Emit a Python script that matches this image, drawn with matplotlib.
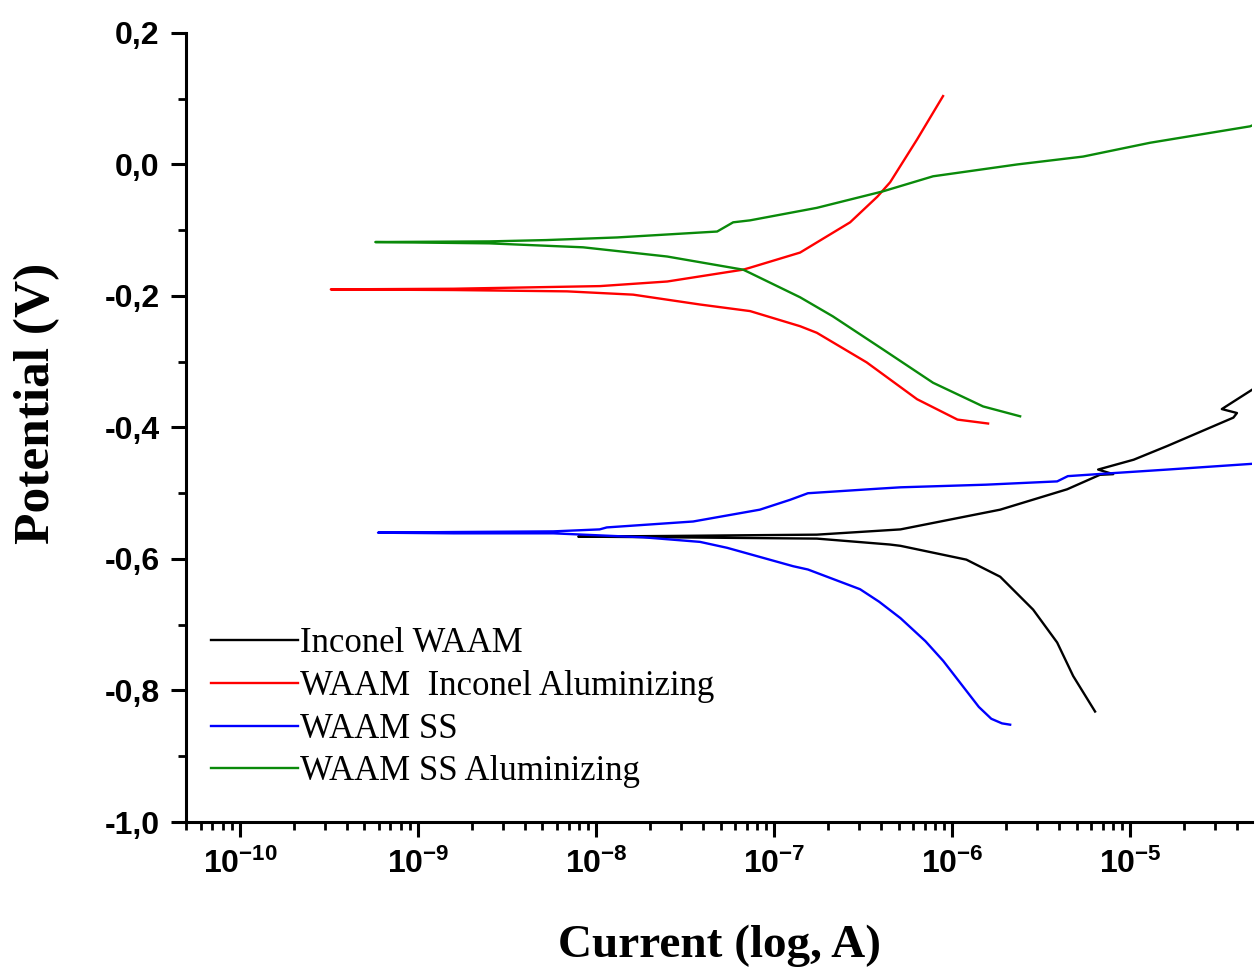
import numpy as np
import matplotlib
matplotlib.use('Agg')
import matplotlib.pyplot as plt
from matplotlib.ticker import LogLocator, FixedLocator, MultipleLocator, NullFormatter

plt.rcParams['axes.unicode_minus'] = False

# ── Data: log10(current / A) and potential (V) ──────────────────────────────
# each curve runs from the cathodic end, through Ecorr, out to the anodic end
inconel_logi = [-5.197, -5.32, -5.41, -5.545, -5.73, -5.92, -6.29, -6.35, -6.76, -7.2, -7.6, -8.10,
                -7.6, -7.2, -6.76, -6.29, -5.73, -5.354, -5.17, -5.095, -5.18, -4.98, -4.79,
                -4.42, -4.40, -4.485, -4.30]
inconel_e = [-0.832, -0.778, -0.727, -0.677, -0.627, -0.601, -0.580, -0.578, -0.569, -0.568, -0.567, -0.566,
             -0.565, -0.564, -0.563, -0.555, -0.525, -0.494, -0.472, -0.471, -0.464, -0.449, -0.428,
             -0.385, -0.378, -0.372, -0.340]

inconel_al_logi = [-5.798, -5.97, -6.197, -6.48, -6.76, -6.854, -7.135, -7.416, -7.792, -8.163, -8.8, -9.49,
                   -8.8, -7.978, -7.60, -7.174, -7.135, -6.854, -6.573, -6.42, -6.348, -6.197, -6.051]
inconel_al_e = [-0.394, -0.388, -0.357, -0.301, -0.256, -0.246, -0.223, -0.213, -0.198, -0.193, -0.191, -0.190,
                -0.189, -0.185, -0.178, -0.160, -0.157, -0.134, -0.088, -0.049, -0.027, 0.038, 0.104]

ss_logi = [-5.674, -5.72, -5.78, -5.85, -5.95, -6.05, -6.15, -6.29, -6.41, -6.517, -6.81, -6.893, -7.264,
           -7.416, -7.736, -8.24, -8.8, -9.225,
           -8.8, -8.24, -7.98, -7.94, -7.455, -7.08, -6.91, -6.81, -6.41, -6.29, -5.81, -5.41, -5.35,
           -5.13, -4.79, -4.30]
ss_e = [-0.852, -0.850, -0.843, -0.825, -0.790, -0.755, -0.725, -0.690, -0.665, -0.646, -0.616, -0.611, -0.583,
        -0.574, -0.567, -0.561, -0.561, -0.560,
        -0.559, -0.558, -0.555, -0.552, -0.543, -0.525, -0.510, -0.500, -0.493, -0.491, -0.487, -0.482, -0.474,
        -0.470, -0.464, -0.455]

ss_al_logi = [-5.618, -5.826, -6.107, -6.39, -6.67, -6.854, -7.135, -7.174, -7.601, -8.073, -8.6, -9.24,
              -8.6, -8.28, -7.882, -7.32, -7.23, -7.135, -6.76, -6.39, -6.107, -5.635, -5.264, -4.888,
              -4.326, -4.30]
ss_al_e = [-0.383, -0.368, -0.332, -0.281, -0.231, -0.202, -0.165, -0.160, -0.140, -0.126, -0.120, -0.118,
           -0.117, -0.115, -0.111, -0.102, -0.088, -0.085, -0.066, -0.041, -0.018, 0.000, 0.012, 0.033,
           0.058, 0.061]

labels = ['Inconel WAAM', 'WAAM  Inconel Aluminizing', 'WAAM SS', 'WAAM SS Aluminizing']
colors = ['black', '#ff0000', '#0000ff', '#0a8a0a']

y_ticks = [-1.0, -0.8, -0.6, -0.4, -0.2, 0.0, 0.2]
y_ticklabels = ['-1,0', '-0,8', '-0,6', '-0,4', '-0,2', '0,0', '0,2']
x_ticks = [1e-10, 1e-9, 1e-8, 1e-7, 1e-6, 1e-5]
x_ticklabels = [r'$\mathdefault{10^{-10}}$', r'$\mathdefault{10^{-9}}$', r'$\mathdefault{10^{-8}}$',
                r'$\mathdefault{10^{-7}}$', r'$\mathdefault{10^{-6}}$', r'$\mathdefault{10^{-5}}$']

# ── Plot ───────────────────────────────────────────────────────────────────
fig = plt.figure(figsize=(12.6, 9.69), dpi=100)
ax = fig.add_axes([0.1476, 0.1517, 0.8461, 0.8143])

series = [(inconel_logi, inconel_e), (inconel_al_logi, inconel_al_e),
          (ss_logi, ss_e), (ss_al_logi, ss_al_e)]
for (logi, e), lab, c in zip(series, labels, colors):
    ax.plot(np.power(10.0, logi), e, color=c, lw=1.7, label=lab)

ax.set_xscale('log')
ax.set_xlim(4.97e-11, 4.84e-5)
ax.set_ylim(-1.0, 0.2)

for sp in ['top', 'right']:
    ax.spines[sp].set_visible(False)
for sp in ['left', 'bottom']:
    ax.spines[sp].set_linewidth(2.2)

ax.yaxis.set_major_locator(FixedLocator(y_ticks))
ax.set_yticklabels(y_ticklabels)
ax.yaxis.set_minor_locator(MultipleLocator(0.1))
ax.xaxis.set_major_locator(FixedLocator(x_ticks))
ax.set_xticklabels(x_ticklabels)
ax.xaxis.set_minor_locator(LogLocator(base=10, subs=np.arange(2, 10), numticks=20))
ax.xaxis.set_minor_formatter(NullFormatter())

ax.tick_params(which='major', direction='out', length=11, width=2.2, pad=8)
ax.tick_params(which='minor', direction='out', length=6, width=2.0)
for t in ax.get_xticklabels() + ax.get_yticklabels():
    t.set_fontfamily('Liberation Sans')
    t.set_fontweight('bold')
    t.set_fontsize(23)

ax.set_ylabel('Potential (V)', fontfamily='Liberation Serif', fontweight='bold', fontsize=37)
ax.yaxis.set_label_coords(-0.118, 0.531)
ax.set_xlabel('Current (log, A)', fontfamily='Liberation Serif', fontweight='bold', fontsize=34, labelpad=32)

leg = ax.legend(loc='lower left', bbox_to_anchor=(0.0106, 0.025), frameon=False,
                prop={'family': 'Liberation Serif', 'size': 25},
                handlelength=2.5, handletextpad=0.05, labelspacing=0.28, borderaxespad=0.0)

plt.savefig('out.png', dpi=100)
